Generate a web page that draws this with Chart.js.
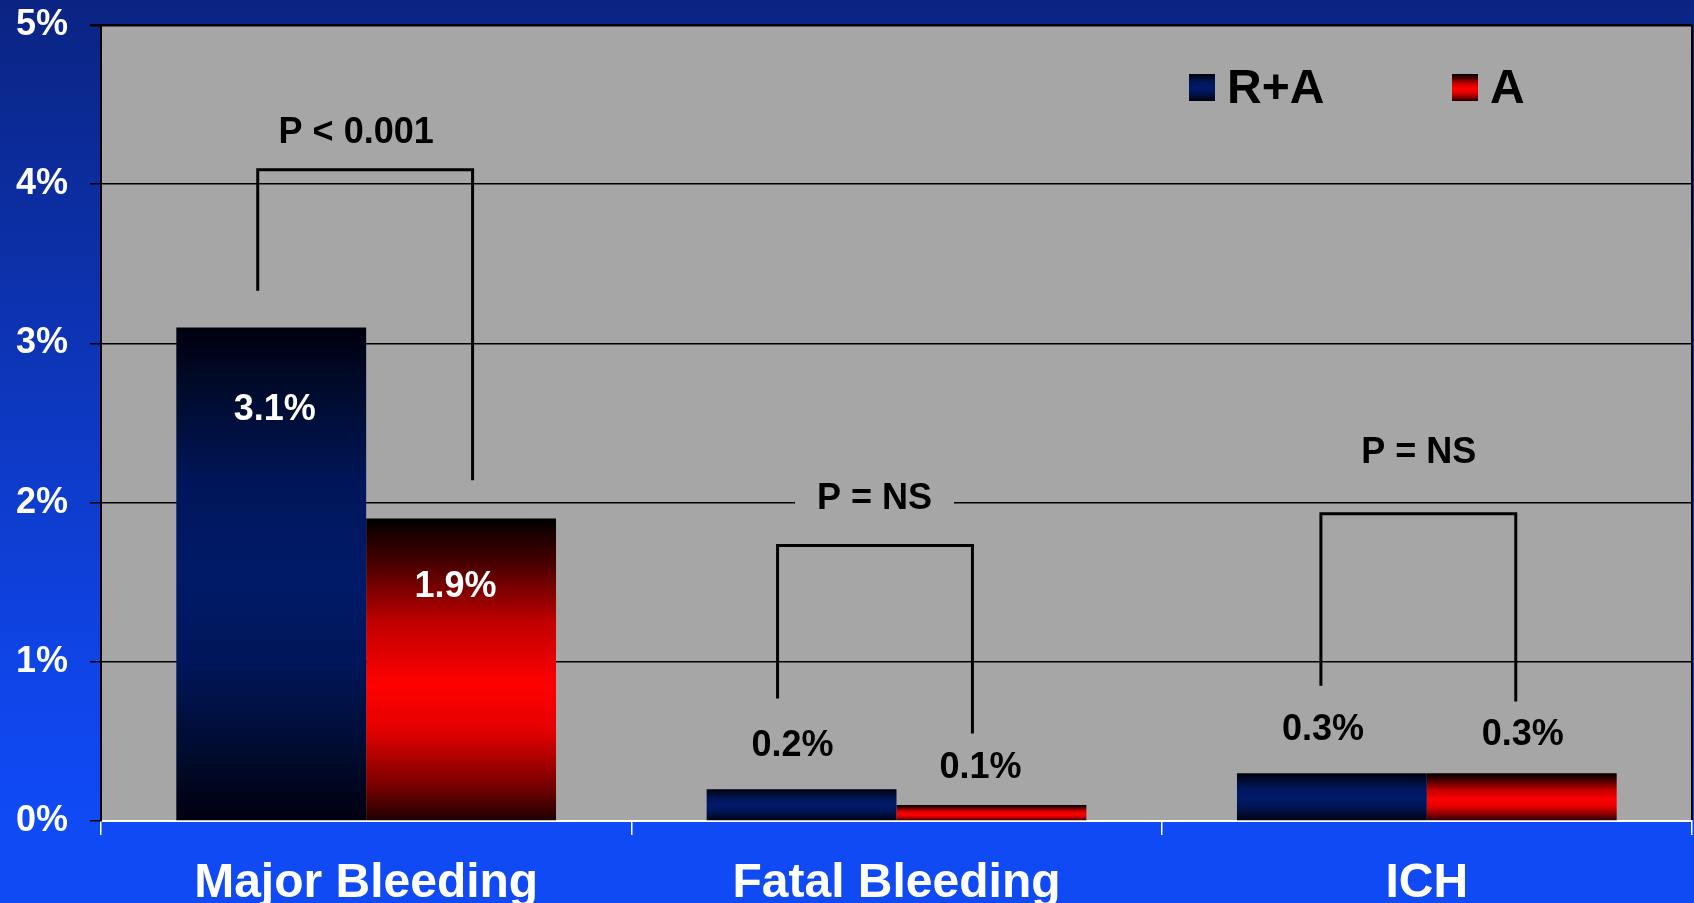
<!DOCTYPE html>
<html>
<head>
<meta charset="utf-8">
<script src="https://cdn.jsdelivr.net/npm/chart.js@4.4.1/dist/chart.umd.min.js"></script>
<style>
  html, body { margin: 0; padding: 0; overflow: hidden; width: 1694px; height: 903px; }
  body { background: linear-gradient(to bottom, #0b2483 0%, #0d35b8 40%, #0f45e8 75%, #104af5 90%, #104af5 100%); }
  #wrap { position: relative; width: 1694px; height: 903px; }
</style>
</head>
<body>
<div id="wrap"><canvas id="chart"></canvas></div>
<script>
// Bleeding outcomes, % of patients
const categories = ['Major Bleeding', 'Fatal Bleeding', 'ICH'];
const seriesNames = ['R+A', 'A'];
const rivaroxabanAspirin = [3.1, 0.2, 0.3];
const aspirinOnly = [1.9, 0.1, 0.3];
const yTicks = [0, 1, 2, 3, 4, 5];

// Significance brackets (levels in % units)
const pLabels = ['P < 0.001', 'P = NS', 'P = NS'];
const bracketTop = [4.09, 1.73, 1.93];
const bracketLeftEnd = [3.33, 0.77, 0.85];
const bracketRightEnd = [2.14, 0.55, 0.75];
const pLabelLevel = [4.34, 2.04, 2.33];

// Placement tweaks (pixels) for annotations
const legOffsetLeft = [-13.5, -24, -11];
const legOffsetRight = [11.5, -19, -6];
const pLabelShift = [-10, -22, -8];
const valueLabelShift = [
  [[3.5, 80], [-9, -46], [-9, -46]],
  [[-5.5, 65], [-11, -40], [1, -41.5]]
];

const FONT = "'Liberation Sans', Arial, Helvetica, sans-serif";
Chart.defaults.font.family = FONT;

const palette = {
  blue: [[0, '#00000e'], [0.12, '#000a2a'], [0.32, '#00165a'], [0.5, '#001a68'], [0.68, '#00165a'], [0.88, '#000a2a'], [1, '#000010']],
  red: [[0, '#000000'], [0.15, '#4a0000'], [0.35, '#c40000'], [0.55, '#ff0000'], [0.7, '#e40000'], [0.88, '#7a0000'], [1, '#1e0000']]
};

function makeGradient(c, top, bottom, stops) {
  const g = c.createLinearGradient(0, top, 0, bottom);
  stops.forEach(([o, col]) => g.addColorStop(o, col));
  return g;
}

function barFill(kind) {
  return (ctx) => {
    const chart = ctx.chart;
    if (!chart.chartArea || ctx.type !== 'data' || !chart.scales.y) {
      return kind === 'blue' ? '#001a68' : '#ff0000';
    }
    const ys = chart.scales.y;
    const top = ys.getPixelForValue(ctx.raw);
    const base = ys.getPixelForValue(0);
    if (!isFinite(top) || !isFinite(base) || Math.abs(base - top) < 1) {
      return kind === 'blue' ? '#001a68' : '#ff0000';
    }
    return makeGradient(chart.ctx, top, base, palette[kind]);
  };
}

const plotBackground = {
  id: 'plotBackground',
  beforeDraw(chart) {
    const { ctx, chartArea: a } = chart;
    ctx.save();
    ctx.fillStyle = '#a6a6a6';
    ctx.fillRect(a.left, a.top, a.right - a.left, a.bottom - a.top);
    ctx.restore();
  },
  afterDraw(chart) {
    const { ctx, chartArea: a } = chart;
    ctx.save();
    ctx.strokeStyle = '#000';
    ctx.lineWidth = 2;
    ctx.beginPath();
    ctx.moveTo(a.right, a.top);
    ctx.lineTo(a.right, a.bottom - 1);
    ctx.stroke();
    ctx.restore();
  }
};

const brackets = {
  id: 'brackets',
  afterDatasetsDraw(chart) {
    const { ctx } = chart;
    const ys = chart.scales.y, xs = chart.scales.x;
    const m0 = chart.getDatasetMeta(0), m1 = chart.getDatasetMeta(1);
    ctx.save();
    categories.forEach((cat, i) => {
      const xl = m0.data[i].x + legOffsetLeft[i];
      const xr = m1.data[i].x + legOffsetRight[i];
      const yt = ys.getPixelForValue(bracketTop[i]);
      ctx.strokeStyle = '#000';
      ctx.lineWidth = 3;
      ctx.lineJoin = 'miter';
      ctx.beginPath();
      ctx.moveTo(xl, ys.getPixelForValue(bracketLeftEnd[i]));
      ctx.lineTo(xl, yt);
      ctx.lineTo(xr, yt);
      ctx.lineTo(xr, ys.getPixelForValue(bracketRightEnd[i]));
      ctx.stroke();

      // P-value label on a plot-coloured patch
      const cx = xs.getPixelForValue(i) + pLabelShift[i];
      const cy = ys.getPixelForValue(pLabelLevel[i]);
      ctx.font = `bold 36px ${FONT}`;
      const w = ctx.measureText(pLabels[i]).width;
      ctx.fillStyle = '#a6a6a6';
      ctx.fillRect(cx - w / 2 - 22, cy - 18, w + 44, 36);
      ctx.fillStyle = '#000';
      ctx.textAlign = 'center';
      ctx.textBaseline = 'alphabetic';
      ctx.fillText(pLabels[i], cx, cy + 13);
    });
    ctx.restore();
  }
};

const valueLabels = {
  id: 'valueLabels',
  afterDatasetsDraw(chart) {
    const { ctx } = chart;
    ctx.save();
    ctx.font = `bold 36px ${FONT}`;
    ctx.textAlign = 'center';
    ctx.textBaseline = 'alphabetic';
    chart.data.datasets.forEach((ds, d) => {
      const meta = chart.getDatasetMeta(d);
      meta.data.forEach((bar, i) => {
        const [dx, dy] = valueLabelShift[d][i];
        ctx.fillStyle = dy > 0 ? '#ffffff' : '#000000';
        ctx.fillText(ds.data[i].toFixed(1) + '%', bar.x + dx, bar.y + dy + 13);
      });
    });
    ctx.restore();
  }
};

const swatchLegend = {
  id: 'swatchLegend',
  afterDraw(chart) {
    const { ctx, chartArea: a } = chart;
    const itemLeft = [a.right - 503, a.right - 240];
    ctx.save();
    chart.data.datasets.forEach((ds, d) => {
      const x = itemLeft[d], y = a.top + 49;
      ctx.fillStyle = makeGradient(ctx, y, y + 27, palette[d === 0 ? 'blue' : 'red']);
      ctx.fillRect(x, y, 26, 27);
      ctx.fillStyle = '#000';
      ctx.font = `bold 48px ${FONT}`;
      ctx.textAlign = 'left';
      ctx.textBaseline = 'alphabetic';
      ctx.fillText(ds.label, x + 38, a.top + 78);
    });
    ctx.restore();
  }
};

new Chart(document.getElementById('chart'), {
  type: 'bar',
  data: {
    labels: categories,
    datasets: [
      { label: seriesNames[0], data: rivaroxabanAspirin, backgroundColor: barFill('blue') },
      { label: seriesNames[1], data: aspirinOnly, backgroundColor: barFill('red') }
    ]
  },
  options: {
    responsive: true,
    maintainAspectRatio: false,
    animation: false,
    layout: { padding: { left: 16, top: 25, right: 2, bottom: 0 } },
    datasets: { bar: { categoryPercentage: 0.716, barPercentage: 1.0, borderWidth: 0 } },
    plugins: { legend: { display: false }, tooltip: { enabled: false } },
    scales: {
      x: {
        afterFit: (s) => { s.height = 82; s.paddingLeft = 0; s.paddingRight = 0; },
        ticks: { color: '#ffffff', font: { size: 48, weight: 'bold' }, padding: 20, maxRotation: 0, autoSkip: false },
        grid: { display: true, drawOnChartArea: false, drawTicks: true, tickLength: 14, tickColor: '#ffffff', lineWidth: 1.5, offset: true },
        border: { display: true, color: '#ffffff', width: 2 }
      },
      y: {
        min: 0,
        max: 5,
        afterBuildTicks: (s) => { s.ticks = yTicks.map(v => ({ value: v })); },
        afterFit: (s) => { s.width = 85; s.paddingTop = 0; s.paddingBottom = 0; },
        ticks: { color: '#ffffff', font: { size: 36, weight: 'bold' }, padding: 22, callback: (v) => v + '%' },
        grid: {
          color: (c) => (c.tick && c.tick.value === 0 ? 'rgba(0,0,0,0)' : '#000000'),
          lineWidth: (c) => (c.tick && c.tick.value === 5 ? 2.5 : 1.5),
          tickColor: '#000000',
          tickLength: 11,
          drawTicks: true
        },
        border: { display: true, color: '#000000', width: 2 }
      }
    }
  },
  plugins: [plotBackground, brackets, valueLabels, swatchLegend]
});
</script>
</body>
</html>
